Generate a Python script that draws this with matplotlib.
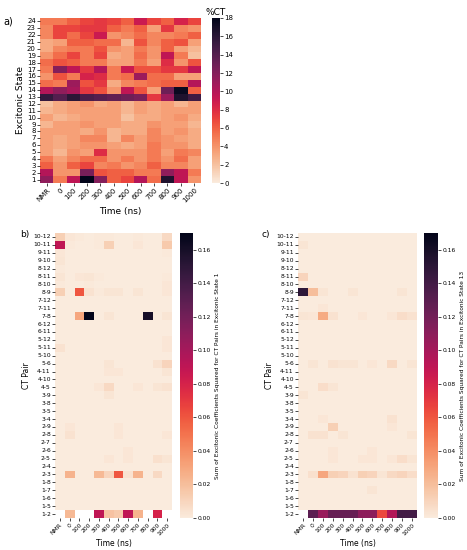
import numpy as np
import matplotlib
matplotlib.use("Agg")
import matplotlib.pyplot as plt
import seaborn as sns

times = ["NMR", "0", "100", "200", "300", "400", "500", "600", "700", "800", "900", "1000"]

# panel a: %CT per excitonic state, rows from state 24 (top) down to state 1
states = [str(s) for s in range(24, 0, -1)]
pct_ct = [
    [5.0, 5.0, 6.0, 7.0, 7.5, 7.0, 6.0, 9.0, 7.0, 6.0, 8.5, 7.0],      # 24
    [4.5, 7.0, 7.0, 7.5, 7.5, 6.0, 5.0, 6.0, 3.5, 7.5, 4.5, 4.0],      # 23
    [4.5, 7.0, 5.5, 7.0, 9.0, 4.0, 4.5, 5.5, 4.5, 4.5, 5.0, 6.0],      # 22
    [3.0, 3.5, 6.0, 6.0, 5.5, 5.5, 2.5, 6.5, 4.5, 6.0, 6.5, 3.5],      # 21
    [3.0, 4.5, 5.0, 5.0, 6.5, 4.0, 3.5, 5.0, 4.0, 6.0, 3.5, 2.5],      # 20
    [4.0, 5.5, 7.0, 5.0, 7.0, 3.0, 3.5, 5.5, 4.0, 9.5, 5.0, 2.0],      # 19
    [5.5, 6.5, 6.0, 5.0, 5.0, 3.5, 3.5, 5.0, 3.5, 8.0, 4.0, 6.5],      # 18
    [5.0, 12.0, 9.5, 7.5, 10.0, 5.0, 9.0, 6.5, 6.5, 7.5, 7.5, 9.5],    # 17
    [4.0, 6.5, 5.0, 8.5, 8.0, 5.0, 5.5, 11.0, 5.5, 5.5, 3.5, 3.5],     # 16
    [5.5, 5.0, 11.0, 6.5, 7.5, 3.0, 4.5, 5.0, 5.5, 6.0, 6.0, 10.0],    # 15
    [10.0, 11.5, 10.5, 7.5, 6.5, 4.0, 9.5, 6.5, 3.5, 13.0, 17.5, 6.0], # 14
    [15.5, 14.0, 16.0, 14.5, 14.0, 13.5, 13.0, 12.5, 7.5, 11.0, 16.5, 15.0],  # 13
    [2.0, 3.0, 3.5, 4.0, 3.0, 3.5, 2.5, 3.5, 3.0, 3.5, 2.5, 3.5],      # 12
    [2.5, 3.0, 3.5, 3.5, 3.5, 3.5, 2.5, 3.5, 3.0, 3.5, 3.5, 3.5],      # 11
    [3.5, 2.5, 3.0, 3.5, 3.5, 3.5, 2.0, 3.0, 3.0, 3.5, 4.0, 3.0],      # 10
    [2.5, 3.5, 3.5, 4.0, 3.5, 3.5, 3.0, 3.0, 4.0, 3.5, 3.5, 2.5],      # 9
    [3.5, 3.5, 3.5, 3.0, 4.0, 2.5, 3.0, 3.0, 4.5, 3.5, 4.0, 3.0],      # 8
    [3.5, 3.0, 3.5, 4.5, 4.5, 2.5, 4.5, 3.5, 4.5, 4.0, 3.5, 3.0],      # 7
    [3.5, 3.0, 3.5, 4.0, 4.0, 3.5, 3.0, 3.5, 5.0, 4.0, 4.0, 3.0],      # 6
    [3.5, 2.5, 4.0, 3.5, 8.0, 4.0, 4.0, 4.0, 5.0, 3.5, 5.0, 4.5],      # 5
    [5.0, 3.5, 4.5, 5.5, 5.5, 4.0, 5.0, 4.0, 5.0, 4.0, 5.5, 3.5],      # 4
    [6.0, 4.0, 6.0, 7.0, 4.5, 5.0, 4.0, 4.5, 6.0, 4.5, 4.5, 3.5],      # 3
    [10.0, 4.0, 4.0, 12.5, 6.5, 6.0, 6.0, 5.0, 5.0, 11.5, 9.5, 5.0],   # 2
    [11.5, 5.0, 9.5, 18.0, 12.0, 6.0, 7.0, 10.0, 5.5, 16.5, 9.5, 4.0], # 1
]

ct_pairs = ["10-12", "10-11", "9-11", "9-10", "8-12", "8-11", "8-10", "8-9",
            "7-12", "7-11", "7-8", "6-12", "6-11", "5-12", "5-11", "5-10",
            "5-6", "4-11", "4-10", "4-5", "3-9", "3-8", "3-5", "3-4",
            "2-9", "2-8", "2-7", "2-6", "2-5", "2-4", "2-3", "1-8",
            "1-7", "1-6", "1-5", "1-2"]

nan = np.nan
# panel b: excitonic state 1
state1 = [
    [0.012, 0.002, 0.001, 0, 0.001, 0.001, 0, 0, 0.001, 0, 0, 0.008],
    [0.09, 0.001, 0, 0, 0.001, 0.012, 0, 0, 0.002, 0, 0, 0.015],
    [0.002, 0, 0, 0, 0, 0, 0, 0, 0, 0, 0, 0.001],
    [0.003, 0, 0, 0, 0, 0, 0, 0, 0, 0, 0, 0],
    [0.001, 0, 0, 0, 0, 0, 0, 0, 0, 0, 0, 0],
    [0.003, 0, 0.002, 0.003, 0.001, 0, 0, 0, 0, 0, 0, 0.001],
    [0.001, 0, 0, 0.001, 0, 0, 0, 0, 0, 0, 0, 0.002],
    [0.012, 0, 0.06, 0.004, 0.001, 0.003, 0.003, 0, 0.003, 0, 0, 0.002],
    [0, 0, 0, 0, 0, 0, 0, 0, 0, 0, 0, 0],
    [0, 0, 0, 0, 0, 0, 0, 0, 0, 0, 0, 0],
    [0, 0, 0.03, 0.17, 0, 0.003, 0, 0, 0, 0.16, 0, 0.003],
    [0, 0, 0, 0, 0, 0, 0, 0, 0, 0, 0, 0],
    [0, 0, 0, 0, 0, 0, 0, 0, 0, 0, 0, 0],
    [0, 0, 0, 0, 0, 0, 0, 0, 0, 0, 0, 0.002],
    [0.004, 0, 0, 0, 0, 0, 0, 0, 0, 0, 0, 0.002],
    [0, 0, 0, 0, 0, 0, 0, 0, 0, 0, 0, 0],
    [0, 0, 0, 0, 0, 0.003, 0, 0, 0, 0, 0.004, 0.01],
    [0, 0, 0, 0, 0, 0.002, 0.002, 0, 0, 0, 0, 0.003],
    [0, 0, 0, 0, 0, 0, 0, 0, 0, 0, 0, 0],
    [0, 0, 0, 0, 0.002, 0.008, 0, 0, 0.002, 0, 0.003, 0.004],
    [0, 0, 0, 0, 0, 0.003, 0, 0, 0, 0, 0, 0],
    [0, 0, 0, 0, 0, 0, 0, 0, 0, 0, 0, 0],
    [0, 0, 0, 0, 0, 0, 0, 0, 0, 0, 0, 0],
    [0, 0, 0, 0, 0, 0, 0, 0, 0, 0, 0, 0],
    [0, 0.002, 0, 0, 0, 0, 0.002, 0, 0, 0, 0, 0],
    [0, 0.004, 0, 0, 0, 0, 0.002, 0, 0, 0, 0, 0.002],
    [0, 0, 0, 0, 0, 0, 0, 0, 0, 0, 0, 0],
    [0, 0, 0, 0, 0, 0, 0, 0.002, 0, 0, 0, 0],
    [0, 0, 0, 0, 0, 0.002, 0, 0.002, 0, 0, 0.005, 0.003],
    [0, 0, 0, 0, 0, 0, 0, 0, 0, 0, 0, 0],
    [0, 0.025, 0, 0, 0.022, 0.01, 0.06, 0.004, 0.025, 0, 0.008, 0],
    [0, 0, 0, 0, 0, 0, 0, 0, 0, 0, 0, 0],
    [0, 0, 0, 0, 0, 0, 0, 0, 0, 0, 0, 0],
    [0, 0, 0, 0, 0, 0, 0, 0, 0, 0, 0, 0],
    [0, 0, 0, 0, 0, 0, 0, 0, 0, 0, 0, 0],
    [nan, 0.022, nan, nan, 0.09, 0.018, 0.015, 0.09, 0.025, nan, 0.08, nan],
]

# panel c: excitonic state 13
state13 = [
    [0, 0, 0, 0, 0, 0, 0, 0, 0, 0, 0, 0],
    [0.003, 0, 0, 0, 0, 0, 0, 0, 0, 0, 0, 0],
    [0, 0, 0, 0, 0, 0, 0, 0, 0, 0, 0, 0],
    [0, 0, 0, 0, 0, 0, 0, 0, 0, 0, 0, 0],
    [0, 0, 0, 0, 0, 0, 0, 0, 0, 0, 0, 0],
    [0.01, 0, 0, 0, 0, 0, 0, 0, 0, 0, 0, 0],
    [0, 0, 0, 0, 0, 0, 0, 0, 0, 0, 0, 0],
    [0.15, 0.02, 0.003, 0, 0, 0.003, 0, 0, 0, 0, 0.003, 0],
    [0, 0, 0, 0, 0, 0, 0, 0, 0, 0, 0, 0],
    [0, 0, 0.002, 0, 0, 0, 0, 0, 0, 0, 0, 0],
    [0.003, 0.002, 0.028, 0.004, 0, 0, 0.002, 0, 0, 0.002, 0.006, 0.004],
    [0, 0, 0, 0, 0, 0, 0, 0, 0, 0, 0, 0],
    [0, 0, 0, 0, 0, 0, 0, 0, 0, 0, 0, 0],
    [0, 0, 0, 0, 0, 0, 0, 0, 0, 0, 0, 0],
    [0, 0, 0, 0, 0, 0, 0, 0, 0, 0, 0, 0],
    [0, 0, 0, 0, 0, 0, 0, 0, 0, 0, 0, 0],
    [0, 0.003, 0, 0.004, 0.003, 0.003, 0, 0.002, 0, 0.008, 0, 0.003],
    [0, 0, 0, 0, 0, 0, 0, 0, 0, 0, 0, 0],
    [0, 0, 0, 0, 0, 0, 0, 0, 0, 0, 0, 0],
    [0, 0, 0.006, 0.003, 0, 0, 0, 0, 0, 0, 0, 0],
    [0.003, 0, 0, 0, 0, 0, 0, 0, 0, 0, 0, 0],
    [0, 0, 0, 0, 0, 0, 0, 0, 0, 0, 0, 0],
    [0, 0, 0, 0, 0, 0, 0, 0, 0, 0, 0, 0],
    [0, 0, 0.002, 0, 0, 0, 0, 0, 0, 0.004, 0, 0],
    [0, 0, 0, 0.012, 0, 0, 0, 0, 0, 0.002, 0, 0],
    [0, 0.004, 0.004, 0, 0.003, 0, 0, 0, 0, 0, 0, 0.003],
    [0, 0, 0, 0, 0, 0, 0, 0, 0, 0, 0, 0],
    [0, 0, 0, 0.002, 0, 0, 0, 0.002, 0, 0, 0, 0],
    [0, 0, 0, 0.002, 0, 0, 0.002, 0.002, 0, 0.002, 0.006, 0.003],
    [0, 0, 0, 0, 0, 0, 0, 0, 0, 0, 0, 0],
    [0, 0.005, 0.03, 0.012, 0.01, 0.004, 0.012, 0.01, 0.003, 0.008, 0.01, 0.006],
    [0, 0, 0, 0, 0, 0, 0, 0, 0, 0, 0, 0],
    [0, 0, 0, 0, 0, 0, 0, 0.003, 0, 0, 0, 0],
    [0, 0, 0, 0, 0, 0, 0, 0, 0, 0, 0, 0],
    [0, 0, 0, 0, 0, 0, 0, 0, 0, 0, 0, 0],
    [nan, 0.13, 0.105, 0.125, 0.125, 0.125, 0.11, 0.11, 0.065, 0.095, 0.14, 0.14],
]

W, H = 467, 550
fig = plt.figure(figsize=(W / 100, H / 100), dpi=100)


def px_axes(left, top, right, bottom):
    return fig.add_axes([left / W, 1 - bottom / H, (right - left) / W, (bottom - top) / H])


tick_fs = 5.0
small_fs = 4.3

# panel a
ax_a = px_axes(40, 18, 201, 183)
cax_a = px_axes(212, 18, 220, 183)
sns.heatmap(np.array(pct_ct), ax=ax_a, cbar_ax=cax_a, cmap="rocket_r", vmin=0, vmax=18,
            xticklabels=times, yticklabels=states)
ax_a.set_xlabel("Time (ns)", fontsize=6.5, labelpad=2)
ax_a.set_ylabel("Excitonic State", fontsize=6.5, labelpad=1)
ax_a.tick_params(axis="both", labelsize=tick_fs, length=2, width=0.5, pad=1)
plt.setp(ax_a.get_xticklabels(), rotation=45, ha="right", rotation_mode="anchor")
plt.setp(ax_a.get_yticklabels(), rotation=0)
cax_a.tick_params(labelsize=tick_fs, length=2, width=0.5, pad=1)
cax_a.set_title("%CT", fontsize=6.5, pad=2)
fig.text(3 / W, 1 - 22 / H, "a)", fontsize=7, va="center")

cbar_label = "Sum of Excitonic Coefficients Squared for CT Pairs in Excitonic State {}"

# panels b and c
panels = [
    (state1, "b)", 1, (55, 233, 172, 518), (180, 233, 193, 518), 20),
    (state13, "c)", 13, (298, 233, 417, 518), (424, 233, 438, 518), 262),
]
for data, tag, st, box, cbox, tag_x in panels:
    ax = px_axes(*box)
    cax = px_axes(*cbox)
    sns.heatmap(np.array(data, dtype=float), ax=ax, cbar_ax=cax, cmap="rocket_r",
                vmin=0, vmax=0.17, xticklabels=times, yticklabels=ct_pairs)
    ax.set_xlabel("Time (ns)", fontsize=5.5, labelpad=2)
    ax.set_ylabel("CT Pair", fontsize=5.5, labelpad=2)
    ax.tick_params(axis="both", labelsize=small_fs, length=2, width=0.5, pad=1)
    plt.setp(ax.get_xticklabels(), rotation=45, ha="right", rotation_mode="anchor")
    plt.setp(ax.get_yticklabels(), rotation=0)
    cax.tick_params(labelsize=small_fs, length=2, width=0.5, pad=1)
    cax.set_yticks([0, 0.02, 0.04, 0.06, 0.08, 0.10, 0.12, 0.14, 0.16])
    cax.set_yticklabels(["0.00", "0.02", "0.04", "0.06", "0.08", "0.10", "0.12", "0.14", "0.16"])
    cax.set_ylabel(cbar_label.format(st), fontsize=4.2, labelpad=3)
    fig.text(tag_x / W, 1 - 234 / H, tag, fontsize=6.5, va="center")

fig.savefig("out.png", dpi=100)
